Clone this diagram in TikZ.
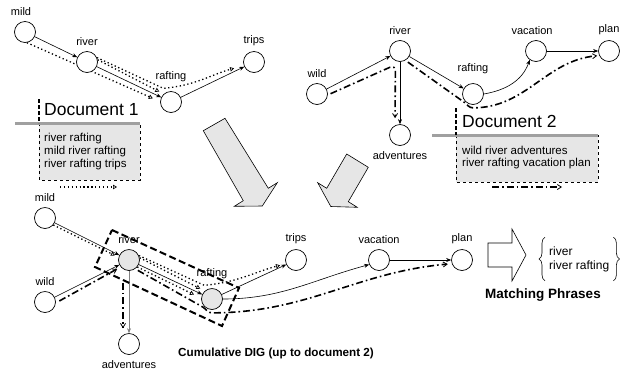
\documentclass[tikz,border=0pt]{standalone}
\usepackage{fontspec}
\setmainfont{Liberation Sans}
\usetikzlibrary{arrows.meta, positioning, calc, backgrounds, decorations.pathreplacing}
\definecolor{digfill}{HTML}{E6E6E6}
\definecolor{rulegray}{HTML}{A0A0A0}
\tikzset{
  word/.style={circle, draw, line width=0.7pt, minimum size=21pt, inner sep=0pt, fill=white},
  hotword/.style={word, fill=digfill},
  wlbl/.style={font=\fontsize{11}{13}\selectfont, inner sep=1pt},
  link/.style={-{Stealth[length=5pt, width=4pt]}, line width=0.6pt, #1},
  link/.default=black,
  docone/.style={line width=1.3pt, dash pattern=on 1.3pt off 2.6pt,
                 -{Triangle[open, length=4pt, width=4.5pt, line width=0.7pt]}},
  doctwo/.style={line width=1.6pt, dash pattern=on 7pt off 3pt on 1.6pt off 3pt,
                 -{Straight Barb[length=4pt, width=5pt, line width=0.8pt]}},
  doctitle/.style={font=\fontsize{17.5}{20}\selectfont, inner sep=0pt},
  doclist/.style={font=\fontsize{11.5}{12.8}\selectfont, align=left, inner sep=0pt},
  docrule/.style={rulegray, line width=3pt},
  docedge/.style={dashed, line width=0.5pt},
  docmark/.style={line width=1.4pt, dash pattern=on 4pt off 2pt},
  bigarrow/.style={draw, line width=0.6pt, fill=digfill},
  selbox/.style={line width=2pt, dash pattern=on 7pt off 3.5pt},
  matchlist/.style={font=\fontsize{12}{14}\selectfont, align=left, inner xsep=2pt, inner ysep=9pt},
  curly/.style={decorate, decoration={brace, amplitude=6pt}, line width=0.6pt},
  capt/.style={font=\bfseries\fontsize{11.7}{14}\selectfont, inner sep=0pt},
}
\begin{document}
\begin{tikzpicture}[x=1pt, y=-1pt]
  \useasboundingbox (0,0) rectangle (629,373);

  % document 1 graph
  \node[word] (mildA) at (25,32) {};
  \node[word] (riverA) at (87,62) {};
  \node[word] (raftingA) at (171,102) {};
  \node[word] (tripsA) at (254,62) {};
  \node[wlbl, above=4pt of mildA, xshift=-4pt] (mildAl) {mild};
  \node[wlbl, above=4pt of riverA] (riverAl) {river};
  \node[wlbl, above=8pt of raftingA] (raftingAl) {rafting};
  \node[wlbl, above=4pt of tripsA] (tripsAl) {trips};

  \begin{scope}[on background layer]
    \draw[link] (mildA) -- (riverA);
    \draw[link] (riverA) -- (raftingA);
    \draw[link] (raftingA) -- (tripsA);
    \draw[docone, shorten >=8pt] (mildA.-80) -- (raftingA.178);
    \draw[docone, shorten >=5pt] (riverA.12) -- (raftingA.132);
    \draw[docone, shorten >=10pt] (riverA.24) -- ([yshift=6pt]raftingA.north west)
      to[out=5, in=195] (tripsA.200);
  \end{scope}

  % document 1 box
  \fill[digfill] (39,123) rectangle (140,180);
  \draw[docedge] (39,123) -- (39,180) -- (140,180) -- (140,123);
  \draw[docrule] (15,123) -- (140,123);
  \draw[docmark] (39,99) -- (39,123);
  \node[doctitle, anchor=base west] (doc1) at (44,115) {Document 1};
  \node[doclist, anchor=north west] (doc1list) at (44,133.3)
    {river rafting\\mild river rafting\\river rafting trips};
  \coordinate (doc1legA) at (60,187);
  \coordinate (doc1legB) at (117,187);
  \draw[docone] (doc1legA) -- (doc1legB);

  % document 2 graph
  \node[word] (wildB) at (317,94) {};
  \node[word] (riverB) at (400,51) {};
  \node[word] (raftingB) at (473,94) {};
  \node[word] (vacationB) at (536,51) {};
  \node[word] (planB) at (609,51) {};
  \node[word] (adventuresB) at (400,135) {};
  \node[wlbl, above=4pt of wildB] (wildBl) {wild};
  \node[wlbl, above=4pt of riverB] (riverBl) {river};
  \node[wlbl, above=8pt of raftingB] (raftingBl) {rafting};
  \node[wlbl, above=4pt of vacationB, xshift=-4pt] (vacationBl) {vacation};
  \node[wlbl, above=4pt of planB] (planBl) {plan};
  \node[wlbl, below=4pt of adventuresB] (adventuresBl) {adventures};

  \begin{scope}[on background layer]
    \draw[link] (wildB) -- (riverB);
    \draw[link] (riverB) -- (raftingB);
    \draw[link] (riverB) -- (adventuresB);
    \draw[link] (raftingB.east) to[out=10, in=250] (vacationB.235);
    \draw[link] (vacationB) -- (planB);
    \draw[doctwo, rounded corners=6pt, shorten <=3pt, shorten >=6pt] (wildB.-5)
      -- ([yshift=-4pt]riverB.-115) -- ([xshift=-5pt]adventuresB.north);
    \draw[doctwo, shorten <=3pt, shorten >=2pt] (riverB.-60)
      -- ([yshift=-2pt]raftingB.215) to[out=-35, in=180] ([yshift=-3pt]raftingB.south)
      to[out=0, in=185] (planB.205);
  \end{scope}

  % document 2 box
  \fill[digfill] (456,135) rectangle (598,182);
  \draw[docedge] (456,135) -- (456,182) -- (598,182) -- (598,135);
  \draw[docrule] (432,135) -- (598,135);
  \draw[docmark] (456,108) -- (456,135);
  \node[doctitle, anchor=base west] (doc2) at (462,127) {Document 2};
  \node[doclist, anchor=north west] (doc2list) at (462,145.6)
    {wild river adventures\\river rafting vacation plan};
  \coordinate (doc2legA) at (492,187);
  \coordinate (doc2legB) at (562,187);
  \draw[doctwo] (doc2legA) -- (doc2legB);

  % merge arrows
  \draw[bigarrow] (203.3,130.7) -- (225,118.3) -- (268.3,188.3) -- (277.3,182.7)
    -- (262.3,206) -- (234.3,206.3) -- (243.3,200.7) -- cycle;
  \draw[bigarrow] (346.7,154) -- (368.3,167.3) -- (348.3,201.7) -- (357.3,207.3)
    -- (330.8,206.5) -- (317.7,182.7) -- (326.7,188.3) -- cycle;

  % cumulative DIG
  \node[word] (mildC) at (45,218) {};
  \node[word] (wildC) at (45,302) {};
  \node[hotword] (riverC) at (129,260) {};
  \node[hotword] (raftingC) at (212,299) {};
  \node[word] (adventuresC) at (129,344) {};
  \node[word] (tripsC) at (296,260) {};
  \node[word] (vacationC) at (379,260) {};
  \node[word] (planC) at (462,260) {};
  \node[wlbl, above=4pt of mildC] (mildCl) {mild};
  \node[wlbl, above=4pt of wildC] (wildCl) {wild};
  \node[wlbl, above=4pt of riverC] (riverCl) {river};
  \node[wlbl, above=8pt of raftingC] (raftingCl) {rafting};
  \node[wlbl, below=4pt of adventuresC] (adventuresCl) {adventures};
  \node[wlbl, above=4pt of tripsC] (tripsCl) {trips};
  \node[wlbl, above=4pt of vacationC] (vacationCl) {vacation};
  \node[wlbl, above=4pt of planC] (planCl) {plan};

  \begin{scope}[on background layer]
    \draw[link] (mildC) -- (riverC);
    \draw[link] (wildC) -- (riverC);
    \draw[link] (riverC) -- (raftingC);
    \draw[link=gray] (riverC) -- (adventuresC);
    \draw[link] (raftingC) -- (tripsC);
    \draw[link] (raftingC.east) to[out=0, in=195] (vacationC.205);
    \draw[link] (vacationC) -- (planC);
    \draw[docone, shorten >=4pt] (mildC.-40) -- (riverC.165);
    \draw[docone, shorten >=5pt] (riverC.12) -- (raftingC.132);
    \draw[docone, shorten >=6pt] (riverC.24) -- ([yshift=6pt]raftingC.north west)
      to[out=5, in=195] (tripsC.200);
    \draw[docone, shorten >=8pt] (riverC.-40) -- (raftingC.175);
    \draw[doctwo, shorten <=4pt, shorten >=4pt] (wildC.-5) -- (riverC.220);
    \draw[doctwo, shorten <=12pt, shorten >=5pt] ([xshift=-6pt]riverC.south)
      -- ([xshift=-6pt]adventuresC.north);
    \draw[doctwo, shorten <=3pt, shorten >=4pt] (riverC.-55)
      -- ([yshift=-2pt]raftingC.215) to[out=-35, in=180] ([yshift=-3pt]raftingC.south)
      to[out=0, in=185] (planC.200);
  \end{scope}

  \draw[selbox] ($(riverC)+(-17,-30)$) -- ($(raftingC)+(27,-11)$)
    -- ($(raftingC)+(10,27)$) -- ($(riverC)+(-34,7)$) -- cycle;
  \node[capt, anchor=west] (digcap) at (178,353) {Cumulative DIG (up to document 2)};

  % matching phrases
  \draw[line width=0.6pt, fill=white] (488,243) -- (512,243) -- (512,229) -- (526,255)
    -- (512,281) -- (512,267) -- (488,267) -- cycle;
  \node[matchlist, anchor=west] (matches) at (547,259) {river\\river rafting};
  \draw[curly] ([xshift=-2pt]matches.south west) -- ([xshift=-2pt]matches.north west);
  \draw[curly] ([xshift=2pt]matches.north east) -- ([xshift=2pt]matches.south east);
  \node[capt, font=\bfseries\fontsize{13.5}{15}\selectfont] (matchcap) at (543,295) {Matching Phrases};
\end{tikzpicture}
\end{document}
